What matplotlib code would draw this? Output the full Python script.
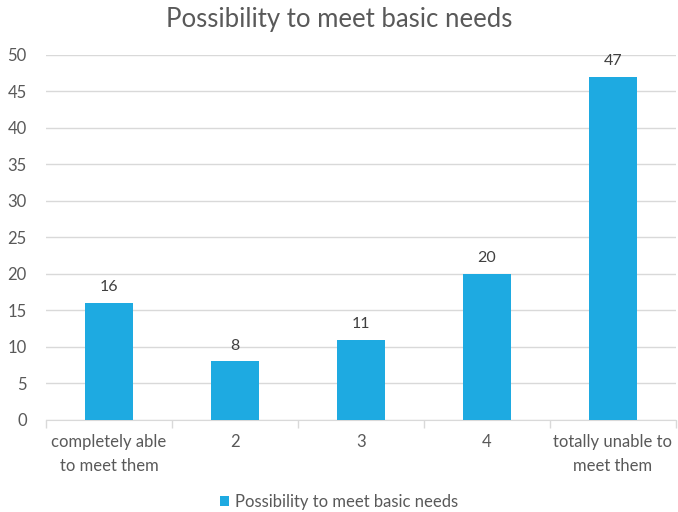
import numpy as np
import matplotlib.pyplot as plt

# Share of respondents by ability to meet basic needs
categories = ["completely able\nto meet them", "2", "3", "4", "totally unable to\nmeet them"]
values = [16, 8, 11, 20, 47]
series_name = "Possibility to meet basic needs"

bar_color = "#1eaae1"
text_color = "#595959"
grid_color = "#d9d9d9"

plt.rcParams["font.family"] = ["Lato", "DejaVu Sans"]

fig = plt.figure(figsize=(6.78, 5.12), dpi=100)
ax = fig.add_axes([0.068, 0.180, 0.929, 0.713])

x = np.arange(len(categories))
bars = ax.bar(x, values, width=0.38, color=bar_color, label=series_name, zorder=3)

for rect, v in zip(bars, values):
    ax.text(rect.get_x() + rect.get_width() / 2, v + 1.2, str(v),
            ha="center", va="bottom", fontsize=11.5, color="#404040")

ax.set_xlim(-0.5, len(categories) - 0.5)
ax.set_ylim(0, 50)
ax.set_yticks(range(0, 51, 5))
ax.yaxis.grid(True, color=grid_color, linewidth=1, zorder=0)
ax.tick_params(axis="y", length=0, labelsize=12, labelcolor=text_color, pad=14)

# category labels centred, tick marks at the boundaries between categories
ax.set_xticks(x)
ax.set_xticklabels(categories, fontsize=12, color=text_color, linespacing=1.65)
ax.tick_params(axis="x", which="major", length=0, pad=10)
ax.set_xticks(np.arange(-0.5, len(categories)), minor=True)
ax.tick_params(axis="x", which="minor", length=6, color=grid_color, width=1)

for side in ["top", "right", "left"]:
    ax.spines[side].set_visible(False)
ax.spines["bottom"].set_color(grid_color)

fig.suptitle(series_name, y=0.987, fontsize=18.5, color=text_color)

fig.legend(handles=[bars], labels=[series_name], loc="lower center",
           bbox_to_anchor=(0.5, -0.025), frameon=False, fontsize=12,
           labelcolor=text_color, handlelength=0.55, handleheight=0.55,
           handletextpad=0.4)

fig.savefig("out.png", dpi=100)
